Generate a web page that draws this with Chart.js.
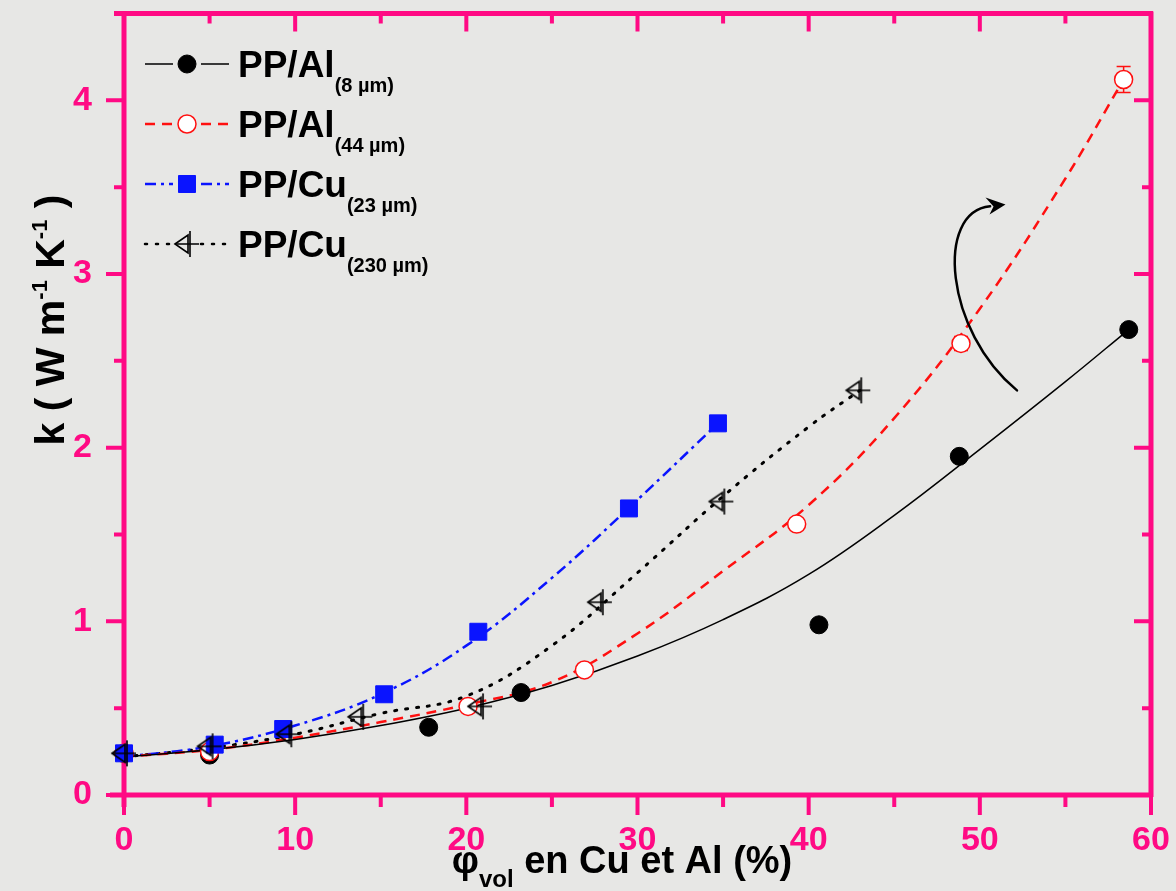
<!DOCTYPE html>
<html>
<head>
<meta charset="utf-8">
<script src="https://cdn.jsdelivr.net/npm/chart.js@4.4.0/dist/chart.umd.min.js"></script>
<style>
  body { margin: 0; background: #e7e7e5; }
  #wrap { width: 1176px; height: 891px; }
</style>
</head>
<body>
<div id="wrap"><canvas id="kChart" width="1176" height="891"></canvas></div>
<script>
// measured points (phi vol %, k in W/m/K)
const alFineX = [0, 5.0, 17.8, 23.2, 40.6, 48.8, 58.7];
const alFineK = [0.24, 0.23, 0.39, 0.59, 0.98, 1.95, 2.68];

const alCoarseX = [0, 5.0, 20.1, 26.9, 39.3, 48.9, 58.4];
const alCoarseK = [0.24, 0.25, 0.51, 0.72, 1.56, 2.60, 4.12];
const alCoarseErr = [0.01, 0.02, 0.02, 0.02, 0.03, 0.04, 0.075];

const cuFineX = [0, 5.3, 9.3, 15.2, 20.7, 29.5, 34.7];
const cuFineK = [0.24, 0.29, 0.38, 0.58, 0.94, 1.65, 2.14];

const cuCoarseX = [0, 5.0, 9.6, 13.8, 20.8, 27.8, 34.9, 42.9];
const cuCoarseK = [0.24, 0.28, 0.35, 0.45, 0.51, 1.11, 1.69, 2.33];

// fitted curves
const fitAlFineX = [0, 5, 10, 15, 20, 25, 30, 35, 40, 45, 50, 55, 58.7];
const fitAlFineK = [0.22, 0.26, 0.32, 0.40, 0.50, 0.63, 0.80, 1.01, 1.27, 1.61, 1.99, 2.38, 2.68];

const fitAlCoarseX = [0, 5, 10, 15, 20, 25, 30, 35, 40, 45, 50, 55, 58.4];
const fitAlCoarseK = [0.22, 0.26, 0.33, 0.42, 0.52, 0.65, 0.93, 1.29, 1.67, 2.17, 2.80, 3.55, 4.12];

const fitCuFineX = [0, 5, 10, 15, 20, 25, 30, 34.7];
const fitCuFineK = [0.22, 0.28, 0.40, 0.58, 0.86, 1.25, 1.70, 2.14];

const fitCuCoarseX = [0, 5, 10, 15, 20, 25, 30, 35, 40, 43];
const fitCuCoarseK = [0.22, 0.27, 0.35, 0.47, 0.57, 0.86, 1.28, 1.72, 2.12, 2.33];

const seriesNames = ["PP/Al", "PP/Al", "PP/Cu", "PP/Cu"];
const seriesSizes = ["(8 µm)", "(44 µm)", "(23 µm)", "(230 µm)"];

const xTicks = [0, 10, 20, 30, 40, 50, 60];
const yTicks = [0, 1, 2, 3, 4];

const pink = "#ff0a84";

function pts(xs, ys) {
  return xs.map((x, i) => ({ x: x, y: ys[i] }));
}

// left-pointing open triangle with error cross
function makeTriangle() {
  const c = document.createElement("canvas");
  c.width = 30; c.height = 30;
  const g = c.getContext("2d");
  g.strokeStyle = "#000";
  g.lineWidth = 1.6;
  g.beginPath();
  g.moveTo(3, 15); g.lineTo(16, 6); g.lineTo(16, 24); g.closePath();
  g.stroke();
  g.beginPath();
  g.moveTo(18, 2); g.lineTo(18, 28);
  g.moveTo(3, 15); g.lineTo(27, 15);
  g.stroke();
  return c;
}
const triImg = makeTriangle();

const lineStyles = [
  { color: "#000", width: 1.5, dash: [] },
  { color: "#ff1010", width: 2.5, dash: [10, 7] },
  { color: "#0a14ff", width: 2.5, dash: [11, 5, 3, 5] },
  { color: "#000", width: 3, dash: [2, 9] }
];
const markerStyles = [
  { pointStyle: "circle", radius: 9, bg: "#000", border: "#000", bw: 1 },
  { pointStyle: "circle", radius: 9, bg: "#fff", border: "#ff1010", bw: 1.5 },
  { pointStyle: "rect", radius: 12, bg: "#0a14ff", border: "#0a14ff", bw: 1 },
  { pointStyle: triImg, radius: 12, bg: "rgba(0,0,0,0)", border: "#000", bw: 1.5 }
];

const markerData = [pts(alFineX, alFineK), pts(alCoarseX, alCoarseK), pts(cuFineX, cuFineK), pts(cuCoarseX, cuCoarseK)];
const fitData = [pts(fitAlFineX, fitAlFineK), pts(fitAlCoarseX, fitAlCoarseK), pts(fitCuFineX, fitCuFineK), pts(fitCuCoarseX, fitCuCoarseK)];

const datasets = [];
fitData.forEach((d, i) => {
  const s = lineStyles[i];
  datasets.push({
    data: d, showLine: true, pointRadius: 0, borderColor: s.color, borderWidth: s.width,
    borderDash: s.dash, borderCapStyle: i === 3 ? "round" : "butt", tension: 0.4,
    order: 5, clip: false
  });
});
markerData.forEach((d, i) => {
  const m = markerStyles[i];
  datasets.push({
    data: d, showLine: false, pointStyle: m.pointStyle, pointRadius: m.radius,
    pointBackgroundColor: m.bg, pointBorderColor: m.border, pointBorderWidth: m.bw,
    order: 4 - i, clip: false
  });
});

function richText(ctx, parts, x, y) {
  let w = 0;
  parts.forEach(p => { ctx.font = p.font; w += ctx.measureText(p.text).width; });
  let cx = x - w / 2;
  parts.forEach(p => {
    ctx.font = p.font;
    ctx.fillText(p.text, cx, y + (p.dy || 0));
    cx += ctx.measureText(p.text).width;
  });
}

const framePlugin = {
  id: "frame",
  beforeDatasetsDraw(chart) {
    const { ctx, chartArea: a, scales } = chart;
    const xs = scales.x, ys = scales.y;
    ctx.save();
    ctx.strokeStyle = pink;
    ctx.lineCap = "butt";
    ctx.lineWidth = 5;
    ctx.beginPath();
    ctx.moveTo(a.left - 14, a.bottom); ctx.lineTo(a.right + 2, a.bottom);
    ctx.moveTo(a.left - 10, a.top); ctx.lineTo(a.right + 2, a.top);
    ctx.moveTo(a.left, a.top - 2); ctx.lineTo(a.left, a.bottom + 12);
    ctx.moveTo(a.right, a.top - 2); ctx.lineTo(a.right, a.bottom + 2);
    ctx.stroke();
    ctx.lineWidth = 4;
    ctx.beginPath();
    for (let v = 0; v <= 60; v += 5) {
      const px = xs.getPixelForValue(v);
      const major = v % 10 === 0;
      ctx.moveTo(px, a.bottom); ctx.lineTo(px, a.bottom + (major ? 20 : 12));
      if (v > 0 && v < 60) { ctx.moveTo(px, a.top); ctx.lineTo(px, a.top + (major ? 18 : 10)); }
    }
    for (let v = 0; v <= 4.5; v += 0.5) {
      const py = ys.getPixelForValue(v);
      const major = Number.isInteger(v);
      ctx.moveTo(a.left, py); ctx.lineTo(a.left - (major ? 18 : 10), py);
      if (v > 0 && v < 4.5) { ctx.moveTo(a.right, py); ctx.lineTo(a.right - (major ? 17 : 9), py); }
    }
    ctx.stroke();
    // error bars of the 44 µm series
    ctx.strokeStyle = "#ff1010";
    ctx.lineWidth = 1.5;
    ctx.beginPath();
    alCoarseX.forEach((x, i) => {
      const px = xs.getPixelForValue(x);
      const y1 = ys.getPixelForValue(alCoarseK[i] - alCoarseErr[i]);
      const y2 = ys.getPixelForValue(alCoarseK[i] + alCoarseErr[i]);
      ctx.moveTo(px, y1); ctx.lineTo(px, y2);
      ctx.moveTo(px - 7, y1); ctx.lineTo(px + 7, y1);
      ctx.moveTo(px - 7, y2); ctx.lineTo(px + 7, y2);
    });
    ctx.stroke();
    ctx.restore();
  },
  afterDraw(chart) {
    const { ctx, scales } = chart;
    const xs = scales.x, ys = scales.y;
    ctx.save();
    ctx.fillStyle = "#000";
    ctx.textBaseline = "alphabetic";

    // legend
    const rowY = [64, 124, 184, 244];
    rowY.forEach((y, i) => {
      const s = lineStyles[i], m = markerStyles[i];
      ctx.strokeStyle = s.color;
      ctx.lineWidth = i === 0 ? 1.5 : 2.5;
      ctx.setLineDash(s.dash);
      ctx.lineCap = i === 3 ? "round" : "butt";
      ctx.beginPath();
      ctx.moveTo(145, y); ctx.lineTo(173, y);
      ctx.moveTo(201, y); ctx.lineTo(229, y);
      ctx.stroke();
      ctx.setLineDash([]);
      ctx.fillStyle = m.bg;
      ctx.strokeStyle = m.border;
      ctx.lineWidth = m.bw;
      Chart.helpers.drawPoint(ctx, { pointStyle: m.pointStyle, radius: m.radius, rotation: 0, borderWidth: m.bw }, 187, y);
      ctx.fillStyle = "#000";
      ctx.font = "bold 37px Arial";
      ctx.fillText(seriesNames[i], 238, y + 13);
      const w = ctx.measureText(seriesNames[i]).width;
      ctx.font = "bold 20px Arial";
      ctx.fillText(seriesSizes[i], 238 + w, y + 28);
    });

    // axis titles
    const big = "bold 38px Arial";
    richText(ctx, [
      { text: "φ", font: big },
      { text: "vol", font: "bold 24px Arial", dy: 14 },
      { text: " en Cu et Al (%)", font: big }
    ], 622, 873);

    ctx.save();
    ctx.translate(64, 320);
    ctx.rotate(-Math.PI / 2);
    const sup = "bold 22px Arial";
    richText(ctx, [
      { text: "k ( W m", font: "bold 41px Arial" },
      { text: "-1", font: sup, dy: -17 },
      { text: " K", font: "bold 41px Arial" },
      { text: "-1", font: sup, dy: -17 },
      { text: " )", font: "bold 41px Arial" }
    ], 0, 0);
    ctx.restore();

    // curved arrow
    const P = (x, y) => [xs.getPixelForValue(x), ys.getPixelForValue(y)];
    const p0 = P(52.17, 2.33), p1 = P(47.96, 2.67), p2 = P(47.37, 3.36), p3 = P(50.6, 3.39), tip = P(51.5, 3.40);
    ctx.strokeStyle = "#000";
    ctx.lineWidth = 2.5;
    ctx.beginPath();
    ctx.moveTo(p0[0], p0[1]);
    ctx.bezierCurveTo(p1[0], p1[1], p2[0], p2[1], p3[0], p3[1]);
    ctx.stroke();
    ctx.beginPath();
    ctx.moveTo(tip[0], tip[1]);
    ctx.lineTo(tip[0] - 20, tip[1] - 7);
    ctx.lineTo(tip[0] - 12, tip[1] + 2);
    ctx.lineTo(tip[0] - 16, tip[1] + 10);
    ctx.closePath();
    ctx.fill();
    ctx.restore();
  }
};

const ctx = document.getElementById("kChart").getContext("2d");
const kChart = new Chart(ctx, {
  type: "scatter",
  data: { datasets: datasets },
  options: {
    responsive: false,
    animation: false,
    layout: { padding: { top: 12, right: 25, left: 0, bottom: 0 } },
    plugins: { legend: { display: false }, tooltip: { enabled: false } },
    scales: {
      x: {
        type: "linear", min: 0, max: 60,
        grid: { display: false }, border: { display: false },
        ticks: {
          stepSize: 5, autoSkip: false, maxRotation: 0, padding: 17,
          color: pink, font: { family: "Arial", size: 34, weight: "bold" },
          callback: v => (xTicks.includes(v) ? v : "")
        },
        afterFit: s => { s.height = 96; s.paddingLeft = 0; s.paddingRight = 0; }
      },
      y: {
        type: "linear", min: 0, max: 4.5,
        grid: { display: false }, border: { display: false },
        ticks: {
          stepSize: 0.5, autoSkip: false, padding: 24,
          color: pink, font: { family: "Arial", size: 34, weight: "bold" },
          callback: v => (yTicks.includes(v) ? v : "")
        },
        afterFit: s => { s.width = 124; s.paddingTop = 0; s.paddingBottom = 0; }
      }
    }
  },
  plugins: [framePlugin]
});
</script>
</body>
</html>
